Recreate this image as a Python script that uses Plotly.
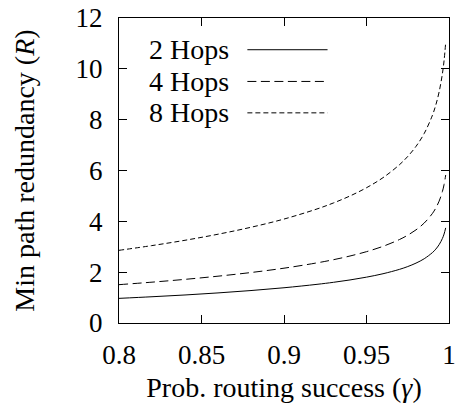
import plotly.graph_objects as go

gamma = [0.80, 0.82, 0.84, 0.86, 0.88, 0.90, 0.92, 0.93, 0.94, 0.95, 0.96,
         0.97, 0.975, 0.98, 0.985, 0.99, 0.992, 0.994, 0.996, 0.997, 0.998]
hops2 = [0.969, 1.033, 1.103, 1.184, 1.277, 1.387, 1.521, 1.601, 1.694, 1.804, 1.938,
         2.111, 2.221, 2.356, 2.529, 2.773, 2.907, 3.081, 3.325, 3.498, 3.742]
hops4 = [1.508, 1.607, 1.717, 1.842, 1.986, 2.157, 2.366, 2.491, 2.636, 2.807, 3.016,
         3.285, 3.456, 3.665, 3.934, 4.314, 4.523, 4.793, 5.173, 5.442, 5.822]
hops8 = [2.859, 3.046, 3.255, 3.493, 3.767, 4.090, 4.487, 4.724, 4.998, 5.322, 5.718,
         6.229, 6.553, 6.949, 7.460, 8.181, 8.577, 9.088, 9.808, 10.319, 11.040]

series = [("2 Hops", hops2, "solid"), ("4 Hops", hops4, "9px,4.5px"), ("8 Hops", hops8, "5px,3px")]
x_ticks = [0.8, 0.85, 0.9, 0.95, 1.0]
x_labels = ["0.8", "0.85", "0.9", "0.95", "1"]
y_ticks = [0, 2, 4, 6, 8, 10, 12]

FONT = "Liberation Serif"
TICK = 27
TITLE = 28
fig = go.Figure()
for name, ys, dash in series:
    fig.add_trace(go.Scatter(x=gamma, y=ys, mode="lines", name=name,
                             line=dict(color="black", width=1, dash=dash, shape="spline"),
                             showlegend=False))

leg_y = [0.896, 0.792, 0.689]
for (name, ys, dash), yy in zip(series, leg_y):
    fig.add_annotation(x=0.085, y=yy, xref="paper", yref="paper", text=name, showarrow=False,
                       xanchor="left", yanchor="middle", font=dict(family=FONT, size=TITLE, color="black"))
    fig.add_shape(type="line", xref="paper", yref="paper", x0=0.389, x1=0.632, y0=yy, y1=yy,
                  line=dict(color="black", width=1, dash=dash))

axis_common = dict(showline=True, linecolor="black", linewidth=1, mirror="ticks",
                   ticks="inside", ticklen=8, tickcolor="black", tickwidth=1,
                   showgrid=False, zeroline=False, automargin=False,
                   tickfont=dict(family=FONT, size=TICK, color="black"))
fig.update_xaxes(range=[0.8, 1.0], tickvals=x_ticks, ticktext=x_labels, ticklabelstandoff=8,
                 title=dict(text="Prob. routing success (<i>γ</i>)", font=dict(family=FONT, size=TITLE, color="black"),
                            standoff=7), **axis_common)
fig.update_yaxes(range=[0, 12], tickvals=y_ticks, ticklabelstandoff=10,
                 title=dict(text="Min path redundancy (<i>R</i>)", font=dict(family=FONT, size=TITLE, color="black"),
                            standoff=32), **axis_common)
fig.update_layout(width=459, height=420, margin=dict(l=119, r=10, t=18, b=97),
                  plot_bgcolor="white", paper_bgcolor="white")
fig.write_html("out.html")
